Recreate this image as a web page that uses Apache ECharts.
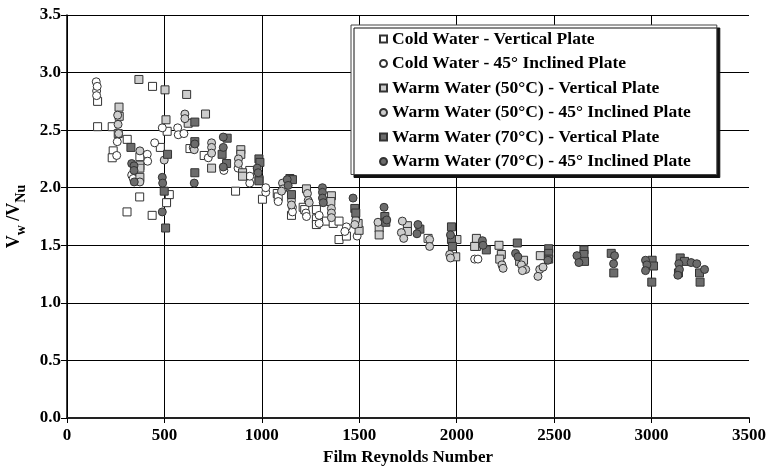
<!DOCTYPE html>
<html>
<head>
<meta charset="utf-8">
<title>Film Reynolds Number vs Vw/VNu</title>
<script src="https://cdn.jsdelivr.net/npm/echarts@6/dist/echarts.min.js"></script>
<style>
  html, body { margin: 0; padding: 0; background: #fff; }
  #chart { width: 769px; height: 466px; }
</style>
</head>
<body>
<div id="chart"></div>
<script>
// Series names (legend entries)
const seriesNames = [
  'Cold Water - Vertical Plate',
  'Cold Water - 45° Inclined Plate',
  'Warm Water (50°C) - Vertical Plate',
  'Warm Water (50°C) - 45° Inclined Plate',
  'Warm Water (70°C) - Vertical Plate',
  'Warm Water (70°C) - 45° Inclined Plate'
];

// Measurements: [film Reynolds number, Vw/VNu]
const coldVertical = [
  [157, 2.75], [157, 2.53], [439, 2.88], [232, 2.53], [309, 2.42], [479, 2.35],
  [237, 2.32], [232, 2.26], [374, 2.27], [374, 2.19], [373, 1.92], [308, 1.79],
  [437, 1.76], [514, 2.49], [525, 1.94], [511, 1.87], [631, 2.34], [704, 2.28],
  [865, 1.97], [938, 2.15], [1003, 1.90], [1079, 1.95], [1084, 1.92], [1152, 1.76],
  [1212, 1.83], [1220, 1.81], [1280, 1.81], [1280, 1.73], [1280, 1.68], [1332, 1.71],
  [1366, 1.69], [1396, 1.71], [1396, 1.55], [1434, 1.58], [1853, 1.56]
];
const coldInclined = [
  [150, 2.92], [152, 2.84], [152, 2.80], [155, 2.88], [258, 2.40], [255, 2.28],
  [412, 2.29], [414, 2.23], [332, 2.11], [340, 2.08], [489, 2.52], [568, 2.52],
  [571, 2.46], [600, 2.47], [725, 2.26], [805, 2.15], [878, 2.17], [938, 2.04],
  [938, 2.10], [1020, 1.96], [1020, 2.00], [1084, 1.88], [1157, 1.83], [1157, 1.79],
  [1226, 1.78], [1229, 1.75], [1294, 1.76], [1294, 1.69], [1434, 1.66], [1426, 1.62],
  [1489, 1.58], [2092, 1.38], [2109, 1.38], [450, 2.39]
];
const warm50Vertical = [
  [369, 2.94], [503, 2.85], [614, 2.81], [711, 2.64], [267, 2.70], [268, 2.62],
  [263, 2.47], [508, 2.59], [622, 2.56], [374, 2.17], [374, 2.09], [892, 2.33],
  [892, 2.29], [742, 2.17], [901, 2.13], [901, 2.10], [986, 2.07], [1229, 1.99],
  [1357, 1.93], [1354, 1.88], [1499, 1.63], [1494, 1.69], [1602, 1.65], [1602, 1.59],
  [1747, 1.67], [1747, 1.62], [2001, 1.55], [1995, 1.40], [2101, 1.49], [2101, 1.56],
  [2092, 1.49], [2217, 1.50], [2229, 1.42], [2221, 1.38], [2323, 1.36], [2343, 1.37],
  [2429, 1.41]
];
const warm50Inclined = [
  [260, 2.63], [262, 2.55], [265, 2.47], [374, 2.32], [374, 2.05], [499, 2.24],
  [605, 2.64], [605, 2.60], [648, 2.35], [653, 2.33], [742, 2.39], [742, 2.35],
  [742, 2.30], [880, 2.25], [880, 2.21], [1106, 2.04], [1109, 1.99], [1101, 1.97],
  [1152, 1.89], [1152, 1.85], [1234, 1.95], [1238, 1.89], [1243, 1.87], [1357, 1.82],
  [1357, 1.78], [1357, 1.74], [1482, 1.72], [1477, 1.68], [1596, 1.70], [1721, 1.71],
  [1716, 1.61], [1728, 1.56], [1861, 1.55], [1861, 1.49], [1964, 1.42], [1968, 1.39],
  [2232, 1.33], [2238, 1.30], [2332, 1.33], [2354, 1.29], [2337, 1.28], [2426, 1.29],
  [2417, 1.23], [2443, 1.31]
];
const warm70Vertical = [
  [328, 2.35], [516, 2.29], [499, 1.97], [506, 1.65], [656, 2.57], [656, 2.40],
  [656, 2.13], [822, 2.43], [796, 2.29], [819, 2.21], [985, 2.25], [990, 2.22],
  [985, 2.06], [1144, 2.08], [1157, 2.07], [1152, 1.94], [1477, 1.82], [1482, 1.78],
  [1631, 1.75], [1636, 1.70], [1811, 1.64], [1973, 1.66], [1973, 1.55], [1978, 1.49],
  [2152, 1.46], [2311, 1.52], [2472, 1.47], [2472, 1.43], [2472, 1.38], [2653, 1.46],
  [2653, 1.42], [2656, 1.36], [2793, 1.43], [2806, 1.26], [3003, 1.37], [3010, 1.32],
  [3001, 1.18], [3147, 1.39], [3169, 1.36], [3138, 1.26], [3246, 1.26], [3249, 1.18]
];
const warm70Inclined = [
  [332, 2.21], [344, 2.19], [344, 2.15], [345, 2.05], [489, 2.09], [491, 2.04],
  [489, 1.79], [656, 2.38], [653, 2.04], [802, 2.44], [802, 2.35], [802, 2.18],
  [976, 2.17], [981, 2.13], [1130, 2.07], [1135, 2.02], [1311, 2.00], [1311, 1.96],
  [1311, 1.91], [1315, 1.87], [1468, 1.91], [1627, 1.83], [1641, 1.72], [1801, 1.68],
  [1796, 1.60], [1968, 1.59], [2132, 1.54], [2135, 1.50], [2302, 1.43], [2314, 1.40],
  [2468, 1.37], [2617, 1.41], [2627, 1.35], [2810, 1.41], [2805, 1.34], [2969, 1.37],
  [2976, 1.33], [2969, 1.28], [3140, 1.34], [3143, 1.29], [3135, 1.24], [3203, 1.35],
  [3232, 1.34], [3272, 1.29]
];

// Axis ranges
const xMin = 0, xMax = 3500, xStep = 500;
const yMin = 0, yMax = 3.5, yStep = 0.5;

const FONT = '"Liberation Serif", "Times New Roman", serif';
const WHITE = '#ffffff', LIGHT = '#cdcdcd', DARK = '#6c6c6c';

function scatter(name, data, symbol, color) {
  return {
    name: name,
    type: 'scatter',
    data: data,
    symbol: symbol,
    symbolSize: 8,
    itemStyle: { color: color, borderColor: '#333', borderWidth: 1, opacity: 1 },
    emphasis: { disabled: true },
    z: 3
  };
}

const chart = echarts.init(document.getElementById('chart'), null, { renderer: 'canvas' });
chart.setOption({
  animation: false,
  backgroundColor: '#fff',
  textStyle: { fontFamily: FONT },
  grid: { left: 67, right: 20, top: 15, bottom: 48, containLabel: false, outerBoundsMode: 'none' },
  legend: {
    orient: 'vertical',
    left: 351,
    top: 25,
    padding: [5, 26, 4, 28],
    itemWidth: 7,
    itemHeight: 7,
    itemGap: 6.5,
    backgroundColor: '#fff',
    borderColor: '#444',
    borderWidth: 1,
    shadowColor: '#111',
    shadowBlur: 0,
    shadowOffsetX: 3,
    shadowOffsetY: 3,
    textStyle: { fontFamily: FONT, fontWeight: 'bold', fontSize: 17.5, color: '#000' },
    data: seriesNames
  },
  xAxis: {
    type: 'value',
    min: xMin, max: xMax, interval: xStep,
    name: 'Film Reynolds Number',
    nameLocation: 'middle',
    nameGap: 29,
    nameTextStyle: { fontFamily: FONT, fontWeight: 'bold', fontSize: 17, color: '#000' },
    axisLine: { show: true, onZero: false, lineStyle: { color: '#222', width: 2 } },
    axisTick: { show: true, inside: false, length: 5, lineStyle: { color: '#000' } },
    axisLabel: {
      fontFamily: FONT, fontWeight: 'bold', fontSize: 17, color: '#000', margin: 9,
      formatter: v => String(v)
    },
    splitLine: { show: true, showMaxLine: false, lineStyle: { color: '#000', width: 1 } }
  },
  yAxis: {
    type: 'value',
    min: yMin, max: yMax, interval: yStep,
    name: '{b|V}{s|w}{b| /V}{s|Nu}',
    nameLocation: 'middle',
    nameGap: 33,
    nameRotate: 90,
    nameTextStyle: {
      color: '#000',
      padding: [0, 0, 0, 0],
      rich: {
        b: { fontFamily: FONT, fontWeight: 'bold', fontSize: 18, color: '#000', verticalAlign: 'top', lineHeight: 24 },
        s: { fontFamily: FONT, fontWeight: 'bold', fontSize: 14, color: '#000', verticalAlign: 'bottom', lineHeight: 24 }
      }
    },
    axisLine: { show: true, onZero: false, lineStyle: { color: '#000', width: 1.5 } },
    axisTick: { show: true, inside: false, length: 6, lineStyle: { color: '#000' } },
    axisLabel: {
      fontFamily: FONT, fontWeight: 'bold', fontSize: 17, color: '#000', margin: 6,
      formatter: v => v.toFixed(1)
    },
    splitLine: { show: true, lineStyle: { color: '#000', width: 1 } }
  },
  series: [
    scatter(seriesNames[0], coldVertical, 'rect', WHITE),
    scatter(seriesNames[1], coldInclined, 'circle', WHITE),
    scatter(seriesNames[2], warm50Vertical, 'rect', LIGHT),
    scatter(seriesNames[3], warm50Inclined, 'circle', LIGHT),
    scatter(seriesNames[4], warm70Vertical, 'rect', DARK),
    scatter(seriesNames[5], warm70Inclined, 'circle', DARK)
  ]
});
</script>
</body>
</html>
